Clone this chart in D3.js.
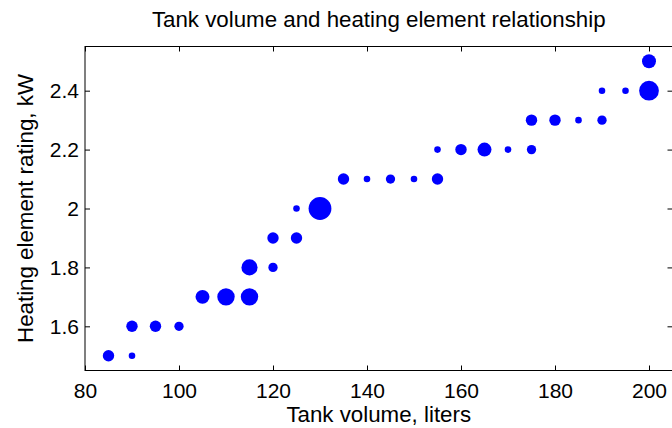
<!DOCTYPE html>
<html>
<head>
<meta charset="utf-8">
<script src="https://cdn.jsdelivr.net/npm/d3@7"></script>
<style>
  html, body { margin: 0; padding: 0; background: #fff; }
  svg { display: block; font-family: "Liberation Sans", Arial, Helvetica, sans-serif; }
</style>
</head>
<body>
<svg id="chart" width="672" height="428"></svg>
<script>
// Data: tank volume (liters), heating element rating (kW), marker weight (count)
const volumes = [85, 90, 90, 95, 100, 105, 110, 115, 115, 120, 120, 125, 125, 130,
                 135, 140, 145, 150, 155, 155, 160, 165, 170, 175, 175, 180, 185, 190,
                 190, 195, 200, 200];
const ratings = [1.5, 1.5, 1.6, 1.6, 1.6, 1.7, 1.7, 1.7, 1.8, 1.8, 1.9, 1.9, 2.0, 2.0,
                 2.1, 2.1, 2.1, 2.1, 2.1, 2.2, 2.2, 2.2, 2.2, 2.2, 2.3, 2.3, 2.3, 2.3,
                 2.4, 2.4, 2.4, 2.5];
const weights = [3, 1, 3, 3, 2, 4.5, 7, 7, 6, 2, 3, 3, 1, 12,
                 3, 1, 2, 1, 3, 1, 3, 4.5, 1, 2, 3, 3, 1, 2,
                 1, 1, 9, 4.5];
const xTicks = [80, 100, 120, 140, 160, 180, 200];
const yTicks = [1.6, 1.8, 2.0, 2.2, 2.4];
const titleText = "Tank volume and heating element relationship";
const xLabelText = "Tank volume, liters";
const yLabelText = "Heating element rating, kW";

const svg = d3.select("#chart");
const mLeft = 85, mRight = 672.5, mTop = 46.5, mBottom = 370.5;

const x = d3.scaleLinear().domain([80, 205]).range([mLeft, mRight]);
const y = d3.scaleLinear().domain([1.45, 2.55]).range([mBottom, mTop]);
const r = d3.scaleSqrt().domain([0, 12]).range([0, 11.4]);

const fmt = d => (Math.round(d * 10) / 10).toString();
const fs = 21;      // tick labels
const lfs = 22.3;   // axis labels and title

// Axes (MATLAB style, inward ticks, box)
const tickLen = 5;
svg.append("g").attr("transform", `translate(0,${mBottom})`)
  .call(d3.axisBottom(x).tickValues(xTicks).tickSizeInner(-tickLen).tickSizeOuter(0).tickPadding(13).tickFormat(fmt))
  .call(g => { g.select(".domain").remove(); g.selectAll("text").attr("font-size", fs).attr("font-family", null).attr("fill", "#000"); g.selectAll("line").attr("stroke", "#000"); });
svg.append("g").attr("transform", `translate(0,${mTop})`)
  .call(d3.axisTop(x).tickValues(xTicks).tickSizeInner(-tickLen).tickSizeOuter(0).tickFormat(""))
  .call(g => { g.select(".domain").remove(); g.selectAll("line").attr("stroke", "#000"); });
svg.append("g").attr("transform", `translate(${mLeft},0)`)
  .call(d3.axisLeft(y).tickValues(yTicks).tickSizeInner(-tickLen).tickSizeOuter(0).tickPadding(6).tickFormat(fmt))
  .call(g => { g.select(".domain").remove(); g.selectAll("text").attr("font-size", fs).attr("font-family", null).attr("fill", "#000"); g.selectAll("line").attr("stroke", "#000"); });
svg.append("g").attr("transform", `translate(${mRight},0)`)
  .call(d3.axisRight(y).tickValues(yTicks).tickSizeInner(-tickLen).tickSizeOuter(0).tickFormat(""))
  .call(g => { g.select(".domain").remove(); g.selectAll("line").attr("stroke", "#000"); });

svg.append("rect")
  .attr("x", mLeft).attr("y", mTop)
  .attr("width", mRight - mLeft).attr("height", mBottom - mTop)
  .attr("fill", "none").attr("stroke", "#000").attr("stroke-width", 1);

// Points
const pts = volumes.map((v, i) => ({ v, k: ratings[i], w: weights[i] }));
svg.append("g").selectAll("circle").data(pts).join("circle")
  .attr("cx", d => x(d.v))
  .attr("cy", d => y(d.k))
  .attr("r", d => r(d.w))
  .attr("fill", "#0000ff");

// Title and labels
const cx = (mLeft + mRight) / 2;
svg.append("text").attr("x", cx).attr("y", 27)
  .attr("text-anchor", "middle").attr("font-size", lfs).attr("fill", "#000").text(titleText);
svg.append("text").attr("x", cx).attr("y", 422)
  .attr("text-anchor", "middle").attr("font-size", lfs).attr("fill", "#000").text(xLabelText);
svg.append("text").attr("transform", `translate(33,${(mTop + mBottom) / 2}) rotate(-90)`)
  .attr("text-anchor", "middle").attr("font-size", lfs).attr("fill", "#000").text(yLabelText);
</script>
</body>
</html>
